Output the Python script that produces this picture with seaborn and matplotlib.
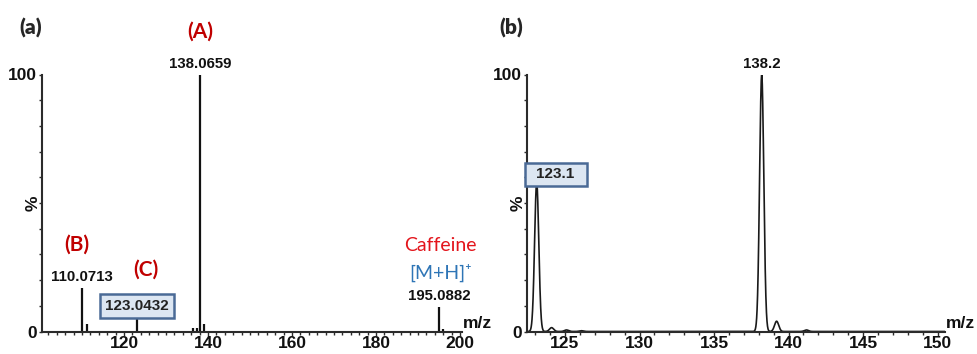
import numpy as np
import pandas as pd
import matplotlib
matplotlib.use("Agg")
import matplotlib.pyplot as plt
from matplotlib.patches import Rectangle
from matplotlib.ticker import MultipleLocator, FixedLocator
import seaborn as sns

# ---- (a) high-resolution centroid spectrum ----
hr_mz = [110.0713, 111.07, 123.0432, 136.5, 137.4, 138.0659, 139.07, 196.09, 195.0882]
hr_int = [17.0, 3.0, 6.6, 1.2, 1.5, 100.0, 3.0, 1.0, 9.4]
hr_labels = {110.0713: "110.0713", 138.0659: "138.0659", 195.0882: "195.0882"}
hr_boxed = 123.0432
hr_xticks = [120, 140, 160, 180, 200]

# ---- (b) low-resolution profile spectrum (peak centre, height) ----
lr_mz = [123.1, 124.1, 125.1, 126.1, 138.2, 139.2, 141.2]
lr_int = [58.0, 1.5, 0.6, 0.3, 100.0, 4.0, 0.6]
lr_peak_sigma = 0.14
lr_xticks = [125, 130, 135, 140, 145, 150]

sns.set_style("ticks")
plt.rcParams["font.family"] = ["Liberation Sans", "DejaVu Sans"]

fig = plt.figure(figsize=(9.78, 3.54), dpi=100)
H = 354.0
W = 978.0
bot = 1 - 331.5 / H
hgt = (331.5 - 74.5) / H
ax_a = fig.add_axes([41.7 / W, bot, (462 - 41.7) / W, hgt])
ax_b = fig.add_axes([527 / W, bot, (945 - 527) / W, hgt])

axis_col = "#2b2b2b"
dark_red = "#c00000"
box_face = "#dce6f2"
box_edge = "#4a6a96"
num_font = dict(family=["Liberation Sans", "DejaVu Sans"], fontweight="bold")
cal_font = ["Lato", "DejaVu Sans"]


def style_axis(ax, xlim, xticks, xminor, pct_x):
    ax.set_xlim(*xlim)
    ax.set_ylim(0, 100)
    for s in ("top", "right"):
        ax.spines[s].set_visible(False)
    for s in ("left", "bottom"):
        ax.spines[s].set_linewidth(1.5)
        ax.spines[s].set_color(axis_col)
    ax.yaxis.set_major_locator(FixedLocator([0, 100]))
    ax.yaxis.set_minor_locator(FixedLocator(list(range(10, 100, 10))))
    ax.set_yticklabels(["0", "100"])
    ax.xaxis.set_major_locator(FixedLocator(xticks))
    ax.xaxis.set_minor_locator(MultipleLocator(xminor))
    ax.tick_params(axis="both", which="both", direction="out", color=axis_col,
                   width=1.0, length=2.5, pad=1.0)
    ax.tick_params(axis="x", which="major", length=2.8, pad=0.3)
    for lab in ax.get_xticklabels() + ax.get_yticklabels():
        lab.set_fontsize(12.5)
        lab.set_fontweight("bold")
        lab.set_color("#111111")
    ax.set_xlabel("")
    ax.set_ylabel("")
    # percent sign beside the intensity axis
    fig.text(pct_x / W, 1 - 203 / H, "%", rotation=90, ha="center", va="center",
             fontsize=12.5, fontweight="bold", color="#111111")
    ax.text(1.003, 0.0, "m/z", transform=ax.transAxes, ha="left", va="bottom",
            fontsize=12.5, fontweight="bold", color="#111111")
    ax.patch.set_alpha(0)


# ---- panel (a) ----
style_axis(ax_a, (100.4, 200.5), hr_xticks, 2, 33)
ax_a.vlines(hr_mz, 0, hr_int, color="#111111", linewidth=1.6)
for mz, txt in hr_labels.items():
    h = hr_int[hr_mz.index(mz)]
    ax_a.text(mz, h + 1.5, txt, ha="center", va="bottom", fontsize=10.8, color="#111111", **num_font)
ax_a.text(hr_boxed, 9.9, "123.0432", ha="center", va="center", fontsize=11, color="#222222",
          bbox=dict(boxstyle="square,pad=0.32", fc=box_face, ec=box_edge, lw=1.8), **num_font)
ax_a.text(138.0659, 116.5, "(A)", ha="center", va="center", fontsize=15, fontweight="bold",
          color=dark_red, family=cal_font)
ax_a.text(108.8, 33.7, "(B)", ha="center", va="center", fontsize=15, fontweight="bold",
          color=dark_red, family=cal_font)
ax_a.text(125.2, 23.9, "(C)", ha="center", va="center", fontsize=15, fontweight="bold",
          color=dark_red, family=cal_font)
ax_a.text(195.3, 33.6, "Caffeine", ha="center", va="center", fontsize=14,
          color="#e3141b", family=cal_font)
ax_a.text(195.3, 23.0, "[M+H]\u207a", ha="center", va="center", fontsize=14,
          color="#2e75b6", family=cal_font)

# ---- panel (b) ----
style_axis(ax_b, (122.45, 150.5), lr_xticks, 1, 518)
grid = np.linspace(122.45, 150.5, 4000)
profile = np.zeros_like(grid)
for c, h in zip(lr_mz, lr_int):
    profile += h * np.exp(-0.5 * ((grid - c) / lr_peak_sigma) ** 2)
prof_df = pd.DataFrame({"mz": grid, "intensity": profile})
sns.lineplot(data=prof_df, x="mz", y="intensity", ax=ax_b, color="#1a1a1a",
             linewidth=1.2, estimator=None, sort=False)
ax_b.set_xlabel("")
ax_b.set_ylabel("")
ax_b.text(138.2, 101.5, "138.2", ha="center", va="bottom", fontsize=10.8, color="#111111", **num_font)

# wide label box over the 123.1 peak apex
fig.patches.append(Rectangle((525 / W, 1 - 186 / H), 62 / W, 23 / H, transform=fig.transFigure,
                             fc=box_face, ec=box_edge, lw=1.8, zorder=5))
fig.text(555.5 / W, 1 - 174.5 / H, "123.1", ha="center", va="center", fontsize=11,
         color="#222222", zorder=6, **num_font)

# panel letters
fig.text(31 / W, 1 - 27.5 / H, "(a)", ha="center", va="center", fontsize=15,
         fontweight="heavy", family=cal_font)
fig.text(511 / W, 1 - 27.5 / H, "(b)", ha="center", va="center", fontsize=15,
         fontweight="heavy", family=cal_font)

fig.savefig("out.png", dpi=100)
